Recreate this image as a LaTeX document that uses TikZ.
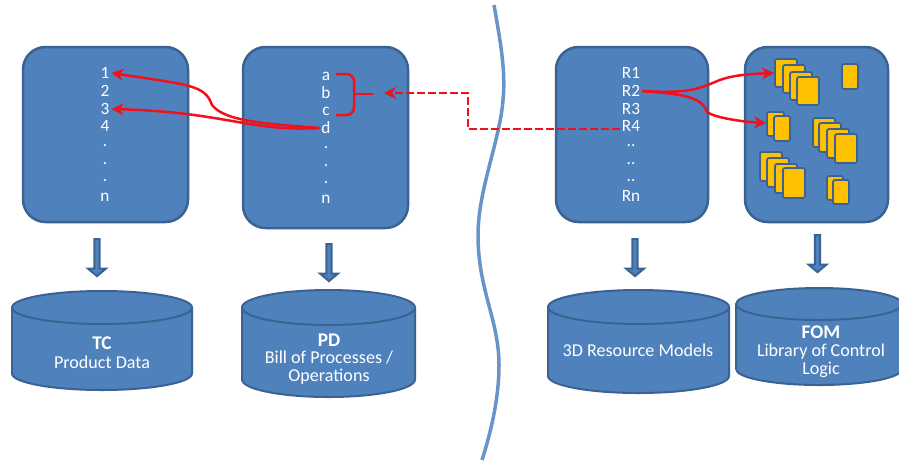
\documentclass[tikz,border=0pt]{standalone}
\usepackage{fontspec}
\setmainfont{Carlito}
\usetikzlibrary{shapes.arrows}
\usetikzlibrary{arrows.meta}
\definecolor{boxblue}{HTML}{4F81BD}
\definecolor{edgeblue}{HTML}{3A6394}
\definecolor{cardyellow}{HTML}{FFC000}
\definecolor{linered}{HTML}{F2101C}

\begin{document}
\begin{tikzpicture}[x=0.02cm,y=-0.02cm,
		panel/.style={draw=edgeblue, fill=boxblue, line width=0.5mm, rounded corners=0.45cm},
		store/.style={draw=edgeblue, fill=boxblue, line width=0.4mm},
		downarrow/.style={draw=edgeblue, fill=boxblue, line width=0.4mm, single arrow, shape border rotate=270, single arrow head extend=0.09cm, single arrow tip angle=100, minimum width=0.36cm, inner sep=0.5pt},
		item/.style={text=white, font=\fontsize{9.8}{10}\selectfont, inner sep=1pt},
		label/.style={text=white, font=\fontsize{10.3}{10.5}\selectfont, align=center},
		head/.style={text=white, font=\bfseries\fontsize{11}{12}\selectfont},
		card/.style={draw=edgeblue, fill=cardyellow, line width=0.35mm, rounded corners=0.4mm},
		redline/.style={draw=linered, line width=0.5mm},
		redarrow/.style={redline, -{Stealth[length=2.4mm,width=2.4mm]}}
	]
	\useasboundingbox (0,0) rectangle (899,461);

	\draw[line width=0.7mm, color=boxblue!85!white] (494,5) .. controls (500,40) and (506,70) .. (503,100) .. controls (500,140) and (478,190) .. (478,235) .. controls (478,290) and (499,320) .. (499,365) .. controls (499,400) and (490,435) .. (482,460);

	\draw[panel] (23,47) rectangle (188,222);
	\draw[panel] (243,47) rectangle (408,228);
	\draw[panel] (556,47) rectangle (708,222);
	\draw[panel] (745,47) rectangle (888,222);

	\node[item] (one) at (105,73) {1};
	\node[item] (two) at (105,91) {2};
	\node[item] (three) at (105,109) {3};
	\node[item] (four) at (105,126) {4};
	\node[item] (ldota) at (105,146) {.};
	\node[item] (ldotb) at (105,164) {.};
	\node[item] (ldotc) at (105,181) {.};
	\node[item] (ln) at (105,197) {n};

	\node[item] (a) at (326,76) {a};
	\node[item] (b) at (326,93) {b};
	\node[item] (c) at (326,111) {c};
	\node[item] (d) at (326,128) {d};
	\node[item] (mdota) at (326,148) {.};
	\node[item] (mdotb) at (326,166) {.};
	\node[item] (mdotc) at (326,183) {.};
	\node[item] (mn) at (326,199) {n};

	\node[item] (rone) at (631,73) {R1};
	\node[item] (rtwo) at (631,91) {R2};
	\node[item] (rthree) at (631,109) {R3};
	\node[item] (rfour) at (631,126) {R4};
	\node[item] (rdota) at (631,146) {..};
	\node[item] (rdotb) at (631,164) {..};
	\node[item] (rdotc) at (631,181) {..};
	\node[item] (rn) at (631,196) {Rn};

	\draw[card] (775,59) rectangle (797,87);
	\draw[card] (783,65) rectangle (805,93);
	\draw[card] (790,72) rectangle (812,100);
	\draw[card] (797,77) rectangle (819,105);
	\draw[card] (842,64) rectangle (858,89);
	\draw[card] (767,112) rectangle (784,136);
	\draw[card] (774,116) rectangle (790,141);
	\draw[card] (813,118) rectangle (835,147);
	\draw[card] (819,123) rectangle (841,152);
	\draw[card] (827,129) rectangle (849,158);
	\draw[card] (835,134) rectangle (857,163);
	\draw[card] (760,152) rectangle (782,181);
	\draw[card] (767,158) rectangle (789,187);
	\draw[card] (775,164) rectangle (797,193);
	\draw[card] (783,168) rectangle (805,198);
	\draw[card] (827,176) rectangle (843,200);
	\draw[card] (833,180) rectangle (849,204);

	\coordinate (atip) at (336,74);
	\coordinate (ctip) at (336,115);
	\coordinate (bracemid) at (354,94);
	\coordinate (bracetip) at (373,94);
	\coordinate (dashbendtop) at (468,93);
	\coordinate (dashbendlow) at (468,129);
	\coordinate (dashtip) at (384,93);
	\coordinate (cardtop) at (774,73);
	\coordinate (cardlow) at (766,123);

	\draw[redarrow] (d.west) .. controls (270,124) and (225,122) .. (212,105) .. controls (205,85) and (190,85) .. (one.east);
	\draw[redarrow] (d.west) .. controls (250,132) and (225,112) .. (three.east);
	\draw[redline, rounded corners=1.5mm] (atip) -| (bracemid) |- (ctip);
	\draw[redline] (bracemid) -- (bracetip);
	\draw[redarrow, dash pattern=on 1.6mm off 0.6mm] (rfour.west |- dashbendlow) -- (dashbendlow) -- (dashbendtop) -- (dashtip);
	\draw[redarrow] (rtwo.east) .. controls (690,94) and (700,88) .. (715,82) .. controls (730,75) and (750,74) .. (cardtop);
	\draw[redarrow] (rtwo.east) .. controls (680,94) and (702,96) .. (707,112) .. controls (715,118) and (745,122) .. (cardlow);

	\node[downarrow, minimum height=0.74cm] (arrowtc) at (97,256.5) {};
	\node[downarrow, minimum height=0.74cm] (arrowpd) at (329,261.5) {};
	\node[downarrow, minimum height=0.74cm] (arrowres) at (635,256.5) {};
	\node[downarrow, minimum height=0.74cm] (arrowfom) at (817.5,252.5) {};

	\draw[store] (12,307.5) -- (12,373.5) arc[start angle=180, end angle=0, x radius=90, y radius=16.5] -- (192,307.5) arc[start angle=0, end angle=-180, x radius=90, y radius=16.5] -- cycle;
	\draw[store] (12,307.5) arc[start angle=180, end angle=0, x radius=90, y radius=16.5];

	\draw[store] (242,307.5) -- (242,379.5) arc[start angle=180, end angle=0, x radius=86.5, y radius=17.5] -- (415,307.5) arc[start angle=0, end angle=-180, x radius=86.5, y radius=17.5] -- cycle;
	\draw[store] (242,307.5) arc[start angle=180, end angle=0, x radius=86.5, y radius=17.5];

	\draw[store] (548,307) -- (548,376) arc[start angle=180, end angle=0, x radius=90.5, y radius=17] -- (729,307) arc[start angle=0, end angle=-180, x radius=90.5, y radius=17] -- cycle;
	\draw[store] (548,307) arc[start angle=180, end angle=0, x radius=90.5, y radius=17];

	\draw[store] (736,304) -- (736,369) arc[start angle=180, end angle=0, x radius=83, y radius=16] -- (902,304) arc[start angle=0, end angle=-180, x radius=83, y radius=16] -- cycle;
	\draw[store] (736,304) arc[start angle=180, end angle=0, x radius=83, y radius=16];

	\node[head] (tchead) at (102,343) {TC};
	\node[label] (tclabel) at (102,362) {Product Data};
	\node[head] (pdhead) at (329,340) {PD};
	\node[label] (pdlabel) at (329,367.5) {Bill of Processes /\\Operations};
	\node[label] (reslabel) at (638,350) {3D Resource Models};
	\node[head] (fomhead) at (821,332) {FOM};
	\node[label] (fomlabel) at (821,360.5) {Library of Control\\Logic};
\end{tikzpicture}
\end{document}
